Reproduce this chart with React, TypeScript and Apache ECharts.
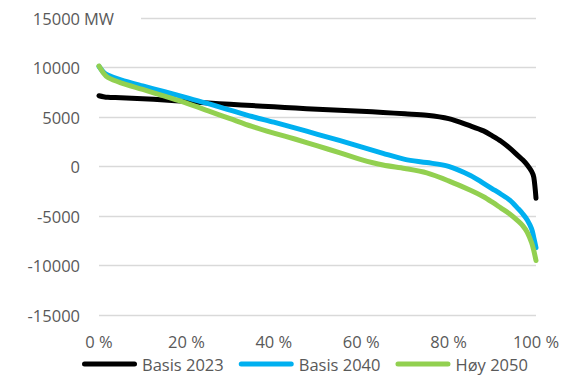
import React, { useEffect, useRef } from "react";
import * as echarts from "echarts";

// Share of hours (%) at which each load value is sampled
const shares = [0, 1, 2, 5, 10, 15, 20, 25, 30, 35, 40, 45, 50, 55, 60, 65, 70, 75, 80, 85, 88, 90, 92, 94, 96, 97, 98, 99, 99.5, 100];

// Duration curves, MW
const basis2023 = [7150, 7050, 6990, 6950, 6850, 6720, 6580, 6420, 6280, 6150, 6030, 5900, 5780, 5680, 5580, 5460, 5320, 5180, 4840, 4100, 3600, 3100, 2550, 1850, 1050, 650, 150, -500, -1100, -3200];
const basis2040 = [10100, 9550, 9250, 8750, 8130, 7550, 6950, 6350, 5700, 5050, 4480, 3880, 3250, 2630, 1980, 1330, 720, 400, 20, -900, -1700, -2250, -2800, -3400, -4300, -4800, -5400, -6300, -7200, -8200];
const hoy2050 = [10150, 9450, 9000, 8450, 7790, 7100, 6400, 5620, 4830, 4050, 3380, 2750, 2080, 1400, 700, 150, -200, -650, -1450, -2400, -3050, -3600, -4200, -4800, -5550, -6000, -6650, -7700, -8500, -9500];

const seriesNames = ["Basis 2023", "Basis 2040", "Høy 2050"];
const seriesColors = ["#000000", "#00B0F0", "#92D050"];
const seriesValues = [basis2023, basis2040, hoy2050];

const yTicks = { min: -15000, max: 15000, step: 5000 };
const xTicks = { min: 0, max: 100, step: 20 };

const FONT = "'Open Sans', sans-serif";
const FONT_SIZE = 16.5;
const TEXT_COLOR = "#595959";

export default function App() {
  const ref = useRef<HTMLDivElement>(null);

  useEffect(() => {
    if (!ref.current) return;
    const chart = echarts.init(ref.current, undefined, { renderer: "svg" });

    const capsule = "path://M2.5,0 H52.5 A2.5,2.5 0 0 1 52.5,5 H2.5 A2.5,2.5 0 0 1 2.5,0 Z";

    chart.setOption({
      animation: false,
      backgroundColor: "#ffffff",
      grid: { left: 99, right: 28, top: 18, bottom: 60, containLabel: false },
      xAxis: {
        type: "value",
        min: xTicks.min,
        max: xTicks.max,
        interval: xTicks.step,
        axisLine: { show: false },
        axisTick: { show: false },
        splitLine: { show: false },
        axisLabel: {
          formatter: (v: number) => `${v} %`,
          color: TEXT_COLOR,
          fontFamily: FONT,
          fontSize: FONT_SIZE,
          margin: 17.5,
        },
      },
      yAxis: {
        type: "value",
        min: yTicks.min,
        max: yTicks.max,
        interval: yTicks.step,
        axisLine: { show: false },
        axisTick: { show: false },
        splitLine: { lineStyle: { color: "#d9d9d9", width: 1.4 } },
        axisLabel: {
          formatter: (v: number) => String(v),
          color: TEXT_COLOR,
          fontFamily: FONT,
          fontSize: FONT_SIZE,
          margin: 19,
        },
      },
      legend: {
        left: 82,
        top: 355.5,
        padding: 0,
        itemGap: 15,
        itemWidth: 55,
        itemHeight: 5,
        textStyle: { color: TEXT_COLOR, fontFamily: FONT, fontSize: FONT_SIZE, lineHeight: 16 },
        data: seriesNames.map((name) => ({ name, icon: capsule })),
      },
      graphic: [
        {
          type: "rect",
          z: 100,
          shape: { x: 99, y: 14, width: 42, height: 8 },
          style: { fill: "#ffffff" },
        },
        {
          type: "text",
          z: 101,
          x: 84,
          y: 18,
          style: {
            text: "MW",
            fill: TEXT_COLOR,
            font: `${FONT_SIZE}px ${FONT}`,
            verticalAlign: "middle",
          },
        },
      ],
      series: seriesNames.map((name, i) => ({
        name,
        type: "line",
        showSymbol: false,
        smooth: 0.3,
        color: seriesColors[i],
        lineStyle: { width: 5, color: seriesColors[i], cap: "round", join: "round" },
        data: shares.map((s, k) => [s, seriesValues[i][k]]),
      })),
    });

    return () => chart.dispose();
  }, []);

  return (
    <div
      ref={ref}
      style={{ position: "fixed", left: 0, top: 0, width: 564, height: 375 }}
    />
  );
}
